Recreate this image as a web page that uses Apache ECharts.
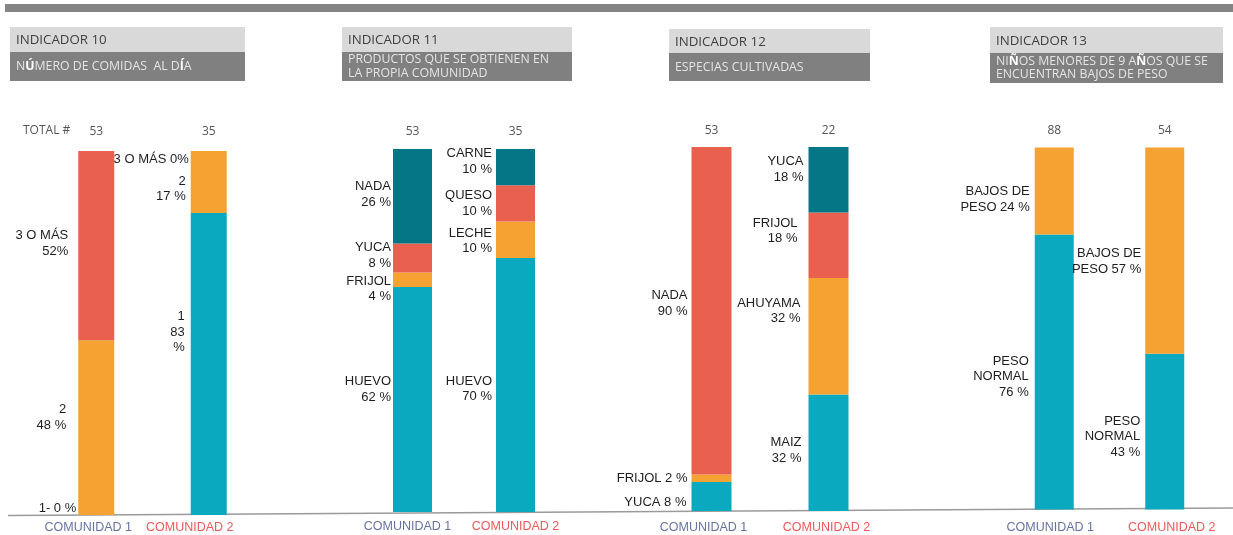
<!DOCTYPE html>
<html>
<head>
<meta charset="utf-8">
<script src="https://cdn.jsdelivr.net/npm/echarts@6.0.0/dist/echarts.min.js"></script>
<style>
  html, body { margin: 0; padding: 0; background: #fff; }
  #chart { width: 1233px; height: 535px; }
</style>
</head>
<body>
<div id="chart"></div>
<script>
// categories / ticks
const communities = ['COMUNIDAD 1', 'COMUNIDAD 2']
const totals10 = ['53', '35']
const totals11 = ['53', '35']
const totals12 = ['53', '22']
const totals13 = ['88', '54']

// stacked values, bottom to top ({c} = value)
const ind10c1Values = [0, 48, 52]
const ind10c1Labels = ['1- {c} %', '2\n{c} %', '3 O MÁS\n{c}%']
const ind10c2Values = [83, 17, 0]
const ind10c2Labels = ['1\n{c}\n%', '2\n{c} %', '3 O MÁS {c}%']

const ind11c1Values = [62, 4, 8, 26]
const ind11c1Labels = ['HUEVO\n{c} %', 'FRIJOL\n{c} %', 'YUCA\n{c} %', 'NADA\n{c} %']
const ind11c2Values = [70, 10, 10, 10]
const ind11c2Labels = ['HUEVO\n{c} %', 'LECHE\n{c} %', 'QUESO\n{c} %', 'CARNE\n{c} %']

const ind12c1Values = [8, 2, 90]
const ind12c1Labels = ['YUCA {c} %', 'FRIJOL {c} %', 'NADA\n{c} %']
const ind12c2Values = [32, 32, 18, 18]
const ind12c2Labels = ['MAIZ\n{c} %', 'AHUYAMA\n{c} %', 'FRIJOL\n{c} %', 'YUCA\n{c} %']

const ind13c1Values = [76, 24]
const ind13c1Labels = ['PESO\nNORMAL\n{c} %', 'BAJOS DE\nPESO {c} %']
const ind13c2Values = [43, 57]
const ind13c2Labels = ['PESO\nNORMAL\n{c} %', 'BAJOS DE\nPESO {c} %']

const levelColors = ['#0ba9c0', '#f6a233', '#e9604f', '#047686']

// layout of each panel
const panels = [
  { left: 40, width: 225, top: 151, bottom: 20, barWidth: 36, margin: 6, topMargin: 13,
    totals: totals10, bars: [[ind10c1Values, ind10c1Labels], [ind10c2Values, ind10c2Labels]],
    offsets: [[[3, -7], [-7, -10], [-5, -2]], [[-1, -32], [0, 7], [3, 8]]], shift: [-8, -19] },
  { left: 361, width: 206, top: 149, bottom: 23, barWidth: 39, margin: 8, topMargin: 11,
    totals: totals11, bars: [[ind11c1Values, ind11c1Labels], [ind11c2Values, ind11c2Labels]],
    offsets: [[[3, -10], [3, 9], [3, -2.5], [3, -2]], [[1, 4], [1, 1], [1, 0], [1, -5.5]]], shift: [-5, 0] },
  { left: 653, width: 234, top: 147, bottom: 24, barWidth: 40, margin: 10, topMargin: 10,
    totals: totals12, bars: [[ind12c1Values, ind12c1Labels], [ind12c2Values, ind12c2Labels]],
    offsets: [[[0, 5.5], [1, 0], [1, -7.5]], [[-2, -2.5], [-3, -25.5], [-6, -14.5], [0, -10.5]]], shift: [-8, -2] },
  { left: 999, width: 221, top: 147.5, bottom: 25.5, barWidth: 39, margin: 12, topMargin: 11,
    totals: totals13, bars: [[ind13c1Values, ind13c1Labels], [ind13c2Values, ind13c2Labels]],
    offsets: [[[-1, 4.5], [0, 8.5]], [[0, 5], [1, 11]]], shift: [-4, 7] }
]

const headers = [
  { x: 10, y: 27, w: 235, h1: 25, h2: 29, title: 'INDICADOR 10', sub: ['N{w|Ú}MERO DE COMIDAS  AL D{w|Í}A'] },
  { x: 342, y: 27, w: 230, h1: 25, h2: 29, title: 'INDICADOR 11', sub: ['PRODUCTOS QUE SE OBTIENEN EN', 'LA PROPIA COMUNIDAD'] },
  { x: 669, y: 29, w: 201, h1: 24, h2: 28, title: 'INDICADOR 12', sub: ['ESPECIAS CULTIVADAS'] },
  { x: 990, y: 27, w: 233, h1: 26, h2: 30, title: 'INDICADOR 13', sub: ['NI{w|Ñ}OS MENORES DE 9 A{w|Ñ}OS QUE SE', 'ENCUENTRAN BAJOS DE PESO'] }
]

const grid = [], xAxis = [], yAxis = [], series = []
panels.forEach((p, pi) => {
  grid.push({ left: p.left, width: p.width, top: p.top, bottom: p.bottom })
  const pad = s => s < 0 ? [0, -2 * s, 0, 0] : [0, 0, 0, 2 * s]
  xAxis.push({
    type: 'category', gridIndex: pi, data: communities,
    axisLine: { show: false }, axisTick: { show: false },
    axisLabel: {
      interval: 0, hideOverlap: false,
      margin: p.margin,
      formatter: (v, i) => (i === 0 ? '{a|' : '{b|') + v + '}',
      rich: {
        a: { color: '#6673a2', fontSize: 12.5, fontFamily: 'Liberation Sans', padding: pad(p.shift[0]) },
        b: { color: '#f0585a', fontSize: 12.5, fontFamily: 'Liberation Sans', padding: pad(p.shift[1]) }
      }
    }
  })
  xAxis.push({
    type: 'category', gridIndex: pi, position: 'top', data: p.totals,
    axisLine: { show: false }, axisTick: { show: false },
    axisLabel: { interval: 0, margin: p.topMargin, color: '#555', fontSize: 12, fontFamily: 'Open Sans' }
  })
  yAxis.push({ type: 'value', gridIndex: pi, min: 0, max: 100, show: false })
  const levels = Math.max(p.bars[0][0].length, p.bars[1][0].length)
  for (let li = 0; li < levels; li++) {
    series.push({
      type: 'bar', stack: 'p' + pi, xAxisIndex: pi * 2, yAxisIndex: pi,
      barWidth: p.barWidth, itemStyle: { color: levelColors[li] },
      silent: true,
      data: p.bars.map(([vals, labs], bi) => {
        if (vals[li] === undefined) return null
        return {
          value: vals[li],
          label: {
            show: true, position: 'left', distance: 5,
            formatter: labs[li], offset: p.offsets[bi][li],
            color: '#1e1e1e', fontSize: 13, lineHeight: 15.5, fontFamily: 'Liberation Sans'
          }
        }
      })
    })
  }
})

const graphic = [
  { type: 'rect', shape: { x: 5, y: 4, width: 1228, height: 8 }, style: { fill: '#848484' } },
  { type: 'line', shape: { x1: 8, y1: 515.5, x2: 1233, y2: 508 }, style: { stroke: '#9a9a9a', lineWidth: 1.5 } },
  { type: 'text', left: 23, top: 125, style: { text: 'TOTAL #', fill: '#555', font: '12px "Open Sans"' } }
]
headers.forEach(h => {
  graphic.push({ type: 'rect', shape: { x: h.x, y: h.y, width: h.w, height: h.h1 }, style: { fill: '#d9d9d9' } })
  graphic.push({ type: 'rect', shape: { x: h.x, y: h.y + h.h1, width: h.w, height: h.h2 }, style: { fill: '#808080' } })
  graphic.push({ type: 'text', x: h.x + 6, y: h.y + h.h1 / 2 + 1,
    style: { text: h.title, fill: '#404040', font: '13.3px "Open Sans"', verticalAlign: 'middle' } })
  const n = h.sub.length
  h.sub.forEach((s, i) => {
    const cy = h.y + h.h1 + h.h2 / 2 + (i - (n - 1) / 2) * 13.5
    graphic.push({ type: 'text', x: h.x + 6, y: cy,
      style: { text: s, fill: '#e4e4e4', font: '12.3px "Open Sans"', verticalAlign: 'middle',
        rich: { w: { fill: '#ffffff', fontWeight: 'bold', fontSize: 12.3, fontFamily: 'Open Sans' } } } })
  })
})

const chart = echarts.init(document.getElementById('chart'))
chart.setOption({ animation: false, grid, xAxis, yAxis, series, graphic })
</script>
</body>
</html>
